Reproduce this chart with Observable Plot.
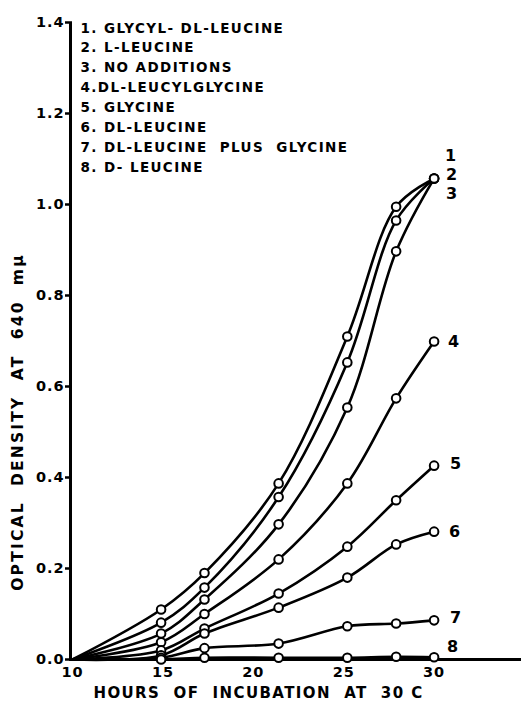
<!DOCTYPE html>
<html>
<head>
<meta charset="utf-8">
<script src="https://cdn.jsdelivr.net/npm/d3@7"></script>
<script src="https://cdn.jsdelivr.net/npm/@observablehq/plot@0.6"></script>
<style>
  html, body { margin: 0; padding: 0; background: #fff; }
  #chart svg { display: block; }
</style>
</head>
<body>
<div id="chart"></div>
<script>
// Hours of incubation (first entry is the common origin, no marker drawn)
const hours = [10, 14.9, 17.3, 21.4, 25.2, 27.9, 30.0];

// Optical density at 640 mμ, one array per curve
const glycylDLLeucine   = [0, 0.110, 0.190, 0.387, 0.710, 0.995, 1.057];
const lLeucine          = [0, 0.081, 0.158, 0.357, 0.653, 0.965, 1.057];
const noAdditions       = [0, 0.057, 0.132, 0.297, 0.554, 0.897, 1.057];
const dlLeucylglycine   = [0, 0.038, 0.100, 0.220, 0.387, 0.574, 0.699];
const glycine           = [0, 0.020, 0.068, 0.145, 0.248, 0.350, 0.426];
const dlLeucine         = [0, 0.009, 0.057, 0.114, 0.180, 0.253, 0.281];
const dlLeucinePlusGly  = [0, 0.004, 0.025, 0.035, 0.073, 0.079, 0.086];
const dLeucine          = [0, 0.000, 0.004, 0.004, 0.004, 0.006, 0.005];

const curveIds = ["1", "2", "3", "4", "5", "6", "7", "8"];
const curveValues = [glycylDLLeucine, lLeucine, noAdditions, dlLeucylglycine,
                     glycine, dlLeucine, dlLeucinePlusGly, dLeucine];
const legendLines = [
  "1. GLYCYL- DL-LEUCINE",
  "2. L-LEUCINE",
  "3. NO ADDITIONS",
  "4.DL-LEUCYLGLYCINE",
  "5. GLYCINE",
  "6. DL-LEUCINE",
  "7. DL-LEUCINE  PLUS  GLYCINE",
  "8. D- LEUCINE"
];
const xTicks = [10, 15, 20, 25, 30];
const yTicks = [0, 0.2, 0.4, 0.6, 0.8, 1.0, 1.2, 1.4];
const xTitle = "HOURS  OF  INCUBATION  AT  30 C";
const yTitle = "OPTICAL  DENSITY  AT  640  mμ";

// Build a long table from the arrays
const rows = [];
curveIds.forEach((id, i) => {
  hours.forEach((h, j) => rows.push({curve: id, hour: h, od: curveValues[i][j], idx: j}));
});
const markers = rows.filter(d => d.idx > 0);
const ends = rows.filter(d => d.idx === hours.length - 1);

// Offsets for end labels (styling only)
const labelDx = {"1": 17, "2": 18, "3": 18, "4": 20, "5": 22, "6": 21, "7": 22, "8": 19};
const labelDy = {"1": -23, "2": -4, "3": 15, "4": 0, "5": -2, "6": 0, "7": -2, "8": -10};

const FONT = "'DejaVu Sans', 'Liberation Sans', sans-serif";

const chart = Plot.plot({
  width: 524,
  height: 707,
  marginLeft: 72,
  marginRight: 0,
  marginTop: 22,
  marginBottom: 48,
  style: {fontFamily: FONT, fontWeight: "bold", color: "#000", background: "#fff"},
  x: {domain: [10, 35], label: null},
  y: {domain: [0, 1.4], label: null},
  marks: [
    // axes
    Plot.axisY({ticks: yTicks, tickFormat: d3.format(".1f"), tickSize: 7, tickPadding: 1,
                fontSize: 14.5, fontWeight: "bold", strokeWidth: 2.5, label: null}),
    Plot.axisX({ticks: xTicks, tickSize: 0, tickPadding: 7, fontSize: 14.5, fontWeight: "bold", label: null}),
    Plot.ruleX([10], {y1: 0, y2: 1.4, stroke: "#000", strokeWidth: 3, dx: -2}),
    Plot.ruleY([0], {x1: 10, x2: 35, stroke: "#000", strokeWidth: 3, dx: -3}),
    // curves
    Plot.line(rows, {x: "hour", y: "od", z: "curve", curve: "catmull-rom",
                     stroke: "#000", strokeWidth: 2.6}),
    Plot.dot(markers, {x: "hour", y: "od", r: 4.3, fill: "#fff", stroke: "#000", strokeWidth: 2}),
    // curve numbers
    ...curveIds.map(id => Plot.text(ends.filter(d => d.curve === id), {
      x: "hour", y: "od", text: "curve", dx: labelDx[id], dy: labelDy[id],
      fontSize: 16, fontWeight: "bold", textAnchor: "middle"})),
    // legend
    Plot.text([legendLines.join("\n")], {frameAnchor: "top-left", textAnchor: "start", lineAnchor: "top",
                     lineHeight: 1.47, dx: 8, dy: -4, fontSize: 13.5, fontWeight: "bold"}),
    // axis titles
    Plot.text([xTitle], {frameAnchor: "bottom", textAnchor: "middle", dx: -40, dy: 38,
                     fontSize: 15, fontWeight: "bold"}),
    Plot.text([yTitle], {frameAnchor: "left", textAnchor: "middle", rotate: -90, dx: -54, dy: 81,
                     fontSize: 15.5, fontWeight: "bold"})
  ]
});

document.getElementById("chart").appendChild(chart);

// letter spacing (post-render styling)
const svg = d3.select(chart);
svg.selectAll("text").style("letter-spacing", "0.9px");
svg.selectAll("text").filter(function () {
  return legendLines.some(l => this.textContent.includes(l.slice(0, 6)));
}).style("letter-spacing", "1.4px");
svg.selectAll("text").filter(function () {
  return this.textContent === xTitle;
}).style("letter-spacing", "1.4px");
svg.selectAll("text").filter(function () {
  return this.textContent === yTitle;
}).style("letter-spacing", "2.2px");
</script>
</body>
</html>
